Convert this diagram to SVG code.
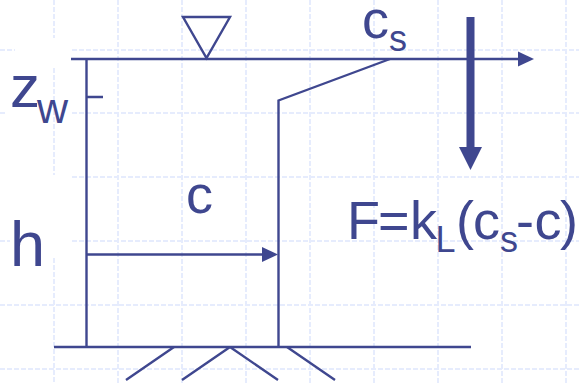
<svg xmlns="http://www.w3.org/2000/svg" width="579" height="383" viewBox="0 0 579 383">
<style>
.grid{stroke:#e6ecfd;stroke-width:2;stroke-dasharray:5 2;fill:none}
.ln{stroke:#3f478f;stroke-width:2.4;fill:none}
.hd{fill:#3f478f;stroke:none}
text{font-family:"Liberation Sans",Arial,sans-serif;fill:#3f478f}
</style>
<rect width="579" height="383" fill="#fff"/>
<g id="grid" class="grid">
<path d="M54 0V38M54 68V175M54 258V383M118 0V383M182 0V383M246 0V383M310 0V383M374 0V383M438 0V383M502 0V383M566 0V383"/>
<path d="M0 50H15M72 50H579M0 113H5M72 113H579M72 177H579M0 241H10M72 241H579M0 305H579M0 369H579"/>
</g>
<g id="connectors">
<path class="ln" d="M71 59H520"/>
<path class="hd" d="M518 51.500L534 59L518 66.500Z"/>
<path class="ln" d="M86.500 59V347M86 97H103"/>
<path class="ln" d="M390 59L278.500 100.500V347"/>
<path class="ln" d="M86 254.500H264"/>
<path class="hd" d="M262 247L278 254.500L262 262Z"/>
<path class="ln" d="M54 347H471"/>
<path class="ln" d="M174 347L126 380M230 347L182 380M230 347L278 380M287 347L335 380"/>
<path class="hd" d="M466.500 17H474.500V147H482L470.500 170L459 147H466.500Z"/>
</g>
<g id="water-level"><path class="ln" d="M183 17H230L206.500 58Z"/></g>
<g id="label-zw"><text x="10" y="107" font-size="60">z<tspan font-size="43" x="37" y="123">w</tspan></text></g>
<g id="label-h"><text x="10" y="266" font-size="63">h</text></g>
<g id="label-c"><text x="186" y="213" font-size="54">c</text></g>
<g id="label-cs"><text x="362" y="38" font-size="54">c<tspan font-size="36" x="389" y="51">s</tspan></text></g>
<g id="label-f"><text x="347" y="239" font-size="54">F<tspan x="378">=</tspan><tspan x="410">k</tspan><tspan font-size="36" x="435.500" y="252">L</tspan><tspan x="456" y="239">(</tspan><tspan x="473">c</tspan><tspan font-size="36" x="500" y="252">s</tspan><tspan x="516" y="239">-</tspan><tspan x="534.500">c</tspan><tspan x="560">)</tspan></text></g>
</svg>
